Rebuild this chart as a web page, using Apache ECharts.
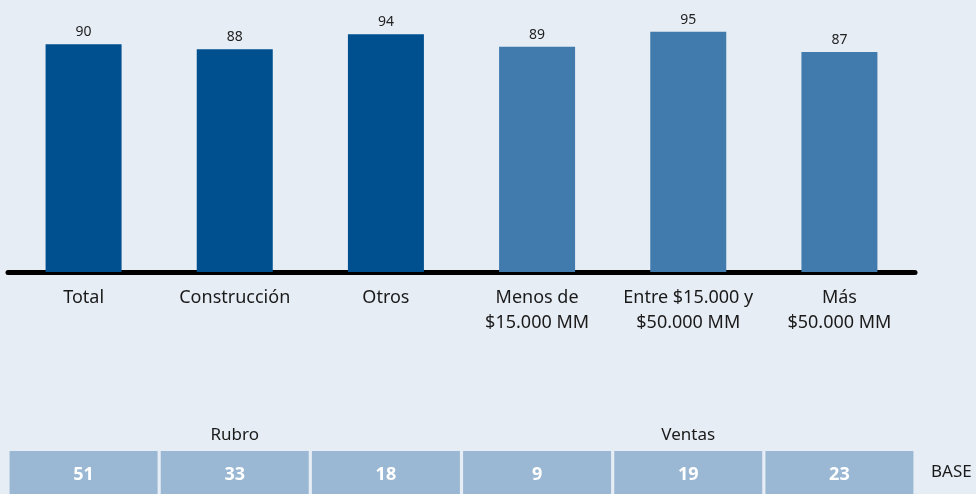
<!DOCTYPE html>
<html><head><meta charset="utf-8">
<script src="https://cdn.jsdelivr.net/npm/echarts@6/dist/echarts.min.js"></script>
<style>html,body{margin:0;padding:0;background:#e6edf5;}#c{width:976px;height:494px;}</style>
</head><body><div id="c"></div>
<script>
const categories = ['Total', 'Construcción', 'Otros', 'Menos de\n$15.000 MM', 'Entre $15.000 y\n$50.000 MM', 'Más\n$50.000 MM'];
const values = [90, 88, 94, 89, 95, 87];
const baseValues = [51, 33, 18, 9, 19, 23];
const groupLabels = ['', 'Rubro', '', '', 'Ventas', ''];
const darkCount = 3;
const FONT = '"Noto Sans", sans-serif';

const chart = echarts.init(document.getElementById('c'), null, {renderer: 'canvas'});
chart.setOption({
  backgroundColor: '#e6edf5',
  animation: false,
  grid: [
    {left: 8, right: 61, top: 19, height: 253},
    {left: 8, right: 61, top: 451, height: 43}
  ],
  xAxis: [
    {gridIndex: 0, type: 'category', data: categories,
     axisLine: {lineStyle: {color: '#000', width: 5, cap: 'round'}},
     axisTick: {show: false},
     axisLabel: {color: '#1a1a1a', fontSize: 18, fontFamily: FONT, margin: 13, lineHeight: 25, interval: 0}},
    {gridIndex: 1, type: 'category', data: categories,
     axisLine: {show: false}, axisTick: {show: false}, axisLabel: {show: false}},
    {gridIndex: 1, type: 'category', data: groupLabels, position: 'top',
     axisLine: {show: false}, axisTick: {show: false},
     axisLabel: {color: '#1a1a1a', fontSize: 17, fontFamily: FONT, margin: 7, interval: 0}}
  ],
  yAxis: [
    {gridIndex: 0, type: 'value', min: 0, max: 100, show: false},
    {gridIndex: 1, type: 'value', min: 0, max: 1, show: false}
  ],
  series: [
    {type: 'bar', xAxisIndex: 0, yAxisIndex: 0, barWidth: 76,
     data: values.map((v, i) => ({value: v, itemStyle: {color: i < darkCount ? '#004f8f' : '#417bad'}})),
     label: {show: true, position: 'top', distance: 5, color: '#222', fontSize: 14, fontFamily: FONT}},
    {type: 'bar', xAxisIndex: 1, yAxisIndex: 1, barWidth: 148,
     data: baseValues.map(() => 1),
     itemStyle: {color: '#9ab8d3'},
     label: {show: true, position: 'inside', offset: [0, 2], color: '#fff', fontSize: 18, fontWeight: 'bold', fontFamily: FONT,
       formatter: p => String(baseValues[p.dataIndex])}}
  ],
  graphic: [
    {type: 'text', left: 931, top: 464, style: {text: 'BASE', fill: '#1a1a1a', font: '17px "Noto Sans", sans-serif'}}
  ]
});
</script></body></html>
